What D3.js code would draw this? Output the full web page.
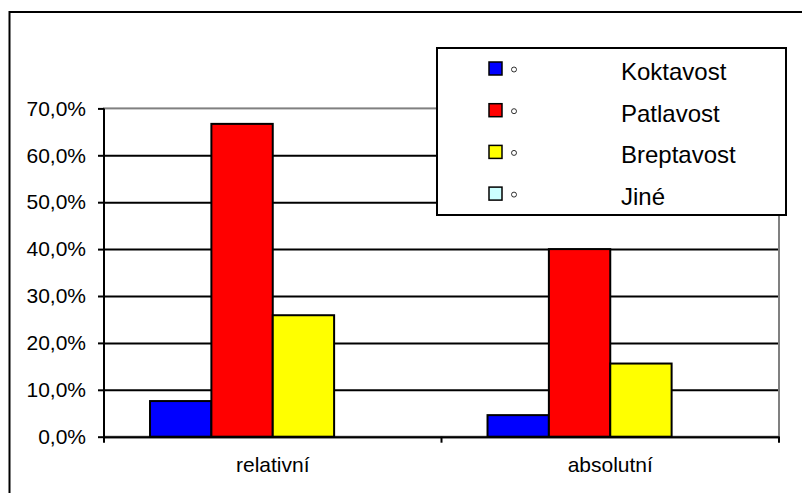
<!DOCTYPE html>
<html>
<head>
<meta charset="utf-8">
<script src="https://cdn.jsdelivr.net/npm/d3@7"></script>
<style>
  body { margin: 0; background: #fff; }
  svg { font-family: "Liberation Sans", Arial, sans-serif; }
</style>
</head>
<body>
<div id="chart"></div>
<script>
// data
var categories = ["relativní", "absolutní"];
var series = ["Koktavost", "Patlavost", "Breptavost", "Jiné"];
var koktavost = [0.076, 0.046];
var patlavost = [0.667, 0.400];
var breptavost = [0.259, 0.156];
var jine = [0, 0];
var yTicks = [0, 0.1, 0.2, 0.3, 0.4, 0.5, 0.6, 0.7];
var colors = ["#0000FF", "#FF0000", "#FFFF00", "#CCFFFF"];

var values = [koktavost, patlavost, breptavost, jine];

var W = 802, H = 493;
var plot = {left: 104, right: 779, top: 108.4, bottom: 436.7};

var svg = d3.select("#chart")
  .append("svg")
  .attr("width", W)
  .attr("height", H);

// outer chart frame (runs off the picture on right/bottom)
svg.append("rect")
  .attr("x", 9.5).attr("y", 12)
  .attr("width", 820).attr("height", 500)
  .attr("fill", "#fff")
  .attr("stroke", "#000")
  .attr("stroke-width", 2);

var y = d3.scaleLinear()
  .domain([0, 0.7])
  .range([plot.bottom, plot.top]);

var x0 = d3.scaleBand()
  .domain(categories)
  .range([plot.left, plot.right])
  .padding(0);

// 150% gap width like Excel: 4 bars + 1.5 bar gap
var x1 = d3.scaleBand()
  .domain(series)
  .range([0, x0.bandwidth()])
  .paddingInner(0)
  .paddingOuter(0.75);

// gridlines
var grid = svg.append("g")
  .attr("transform", "translate(" + plot.left + ",0)")
  .call(d3.axisLeft(y).tickValues(yTicks.slice(0, -1)).tickSize(-(plot.right - plot.left)).tickFormat(""));
grid.select(".domain").remove();
grid.selectAll("line").attr("stroke", "#000").attr("stroke-width", 2);

// plot area border (grey)
svg.append("rect")
  .attr("x", plot.left).attr("y", plot.top)
  .attr("width", plot.right - plot.left)
  .attr("height", plot.bottom - plot.top)
  .attr("fill", "none")
  .attr("stroke", "#808080")
  .attr("stroke-width", 2);

// bars
var rows = [];
categories.forEach(function(c, i) {
  series.forEach(function(s, j) {
    rows.push({cat: c, ser: s, val: values[j][i], color: colors[j]});
  });
});

svg.append("g")
  .selectAll("rect")
  .data(rows.filter(function(d) { return d.val > 0; }))
  .enter()
  .append("rect")
    .attr("x", function(d) { return x0(d.cat) + x1(d.ser); })
    .attr("y", function(d) { return y(d.val); })
    .attr("width", x1.bandwidth())
    .attr("height", function(d) { return y(0) - y(d.val); })
    .attr("fill", function(d) { return d.color; })
    .attr("stroke", "#000")
    .attr("stroke-width", 2);

// y axis
var yAxis = svg.append("g")
  .attr("transform", "translate(" + plot.left + ",0)")
  .call(d3.axisLeft(y)
    .tickValues(yTicks)
    .tickSize(6)
    .tickPadding(12)
    .tickFormat(function(d) { return d3.format(".1f")(d * 100).replace(".", ",") + "%"; }));
yAxis.select(".domain").attr("stroke", "#000").attr("stroke-width", 2)
  .attr("d", "M0," + plot.top + "V" + (plot.bottom + 6));
yAxis.selectAll("line").attr("stroke", "#000").attr("stroke-width", 2);
yAxis.selectAll("text").style("font-size", "21px").attr("fill", "#000");

// x axis
var xAxis = svg.append("g")
  .attr("transform", "translate(0," + plot.bottom + ")")
  .call(d3.axisBottom(x0).tickSize(0).tickPadding(20.4));
xAxis.select(".domain").attr("stroke", "#000").attr("stroke-width", 2);
xAxis.selectAll("text").style("font-size", "21px").attr("fill", "#000");

var bounds = categories.map(function(c) { return x0(c); }).concat([x0(categories[categories.length - 1]) + x0.bandwidth()]);
svg.append("g")
  .selectAll("line")
  .data(bounds.slice(1))
  .enter()
  .append("line")
    .attr("x1", function(d) { return d; })
    .attr("x2", function(d) { return d; })
    .attr("y1", plot.bottom)
    .attr("y2", plot.bottom + 6)
    .attr("stroke", "#000")
    .attr("stroke-width", 2);

// legend
var legend = svg.append("g");
legend.append("rect")
  .attr("x", 437).attr("y", 48)
  .attr("width", 349).attr("height", 167)
  .attr("fill", "#fff")
  .attr("stroke", "#000")
  .attr("stroke-width", 2);

var item = legend.selectAll(".item")
  .data(series)
  .enter()
  .append("g")
    .attr("class", "item")
    .attr("transform", function(d, i) { return "translate(0," + (68.5 + i * 41.7) + ")"; });

item.append("rect")
  .attr("x", 489).attr("y", -6.5)
  .attr("width", 13).attr("height", 13)
  .attr("fill", function(d, i) { return colors[i]; })
  .attr("stroke", "#000")
  .attr("stroke-width", 1.5);

item.append("circle")
  .attr("cx", 514).attr("cy", 1)
  .attr("r", 2.5)
  .attr("fill", "#fff")
  .attr("stroke", "#000")
  .attr("stroke-width", 0.8);

item.append("text")
  .attr("x", 621).attr("y", 11.5)
  .style("font-size", "24px")
  .attr("fill", "#000")
  .text(function(d) { return d; });
</script>
</body>
</html>
